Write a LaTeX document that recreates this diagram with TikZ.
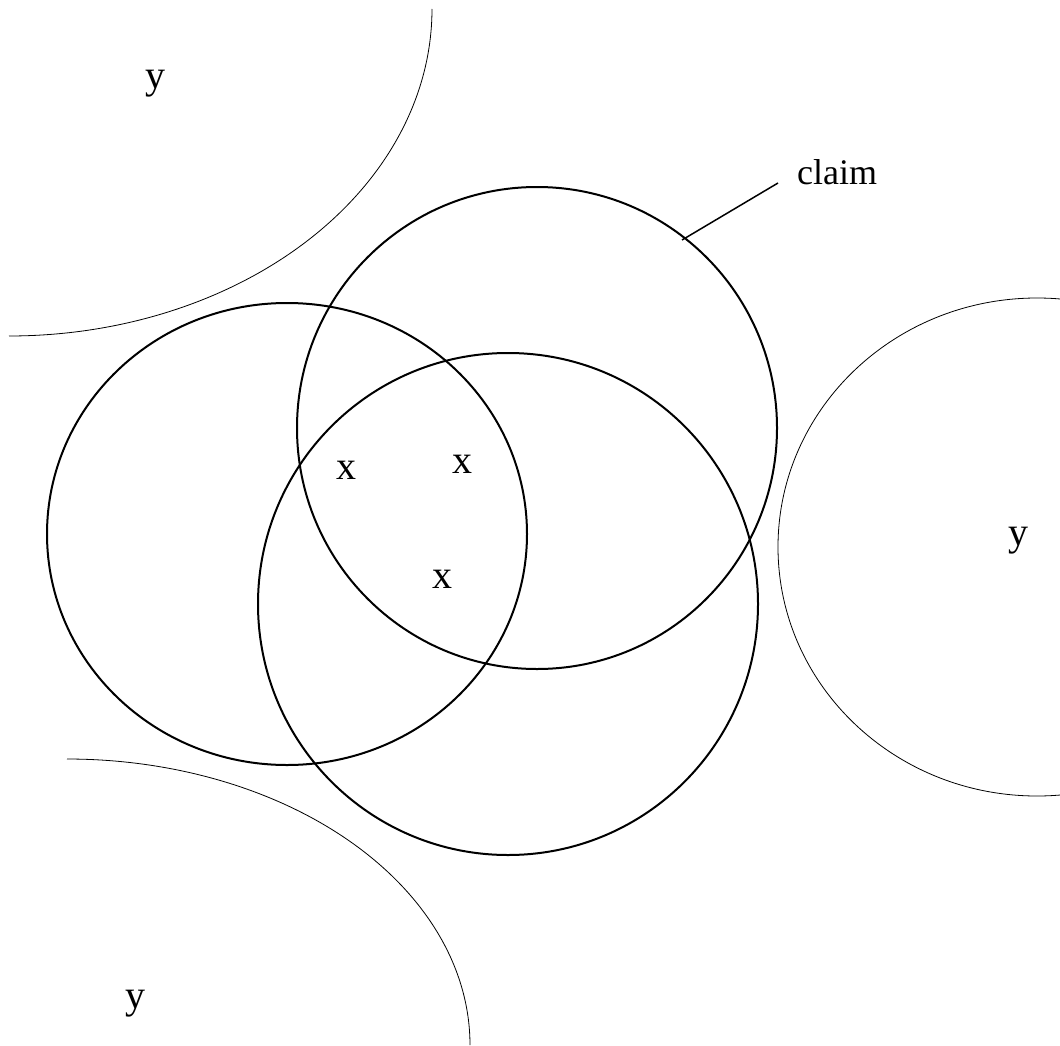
\documentclass[tikz,border=0pt]{standalone}
\usepackage{fontspec}
\setmainfont{Liberation Serif}
\begin{document}
\begin{tikzpicture}[x=1pt,y=-1pt,
  thickc/.style={line width=2pt},
  thinc/.style={line width=0.8pt},
  bigl/.style={font=\fontsize{40}{40}\selectfont, inner sep=0pt, anchor=base},
  smalll/.style={font=\fontsize{36}{36}\selectfont, inner sep=0pt, anchor=base west}]
\useasboundingbox (0,0) rectangle (1060,1046);
\clip (0,0) rectangle (1060,1046);
% thin regions
\draw[thinc] plot[domain=0:90, samples=90, smooth] ({9+423*cos(\x)},{9+327*sin(\x)});
\draw[thinc] plot[domain=-90:0, samples=90, smooth] ({67+403*cos(\x)},{1045+286*sin(\x)});
\draw[thinc] (1037,547) ellipse [x radius=259, y radius=249];
% thick claim regions
\draw[thickc] (287,534) ellipse [x radius=240, y radius=231];
\draw[thickc] (537,428) ellipse [x radius=240, y radius=241];
\draw[thickc] (508,604) ellipse [x radius=250, y radius=251];
% labels
\node[bigl] (y1) at (155,89) {y};
\node[bigl] (y2) at (1018,545) {y};
\node[bigl] (y3) at (135,1008) {y};
\node[bigl] (x1) at (346,479) {x};
\node[bigl] (x2) at (462,473) {x};
\node[bigl] (x3) at (442,588) {x};
\node[smalll] (claim) at (797,184) {claim};
\coordinate (ctip) at (682,240);
\coordinate (cend) at (778,183);
\draw[line width=1.5pt] (ctip) -- (cend);
\end{tikzpicture}
\end{document}
